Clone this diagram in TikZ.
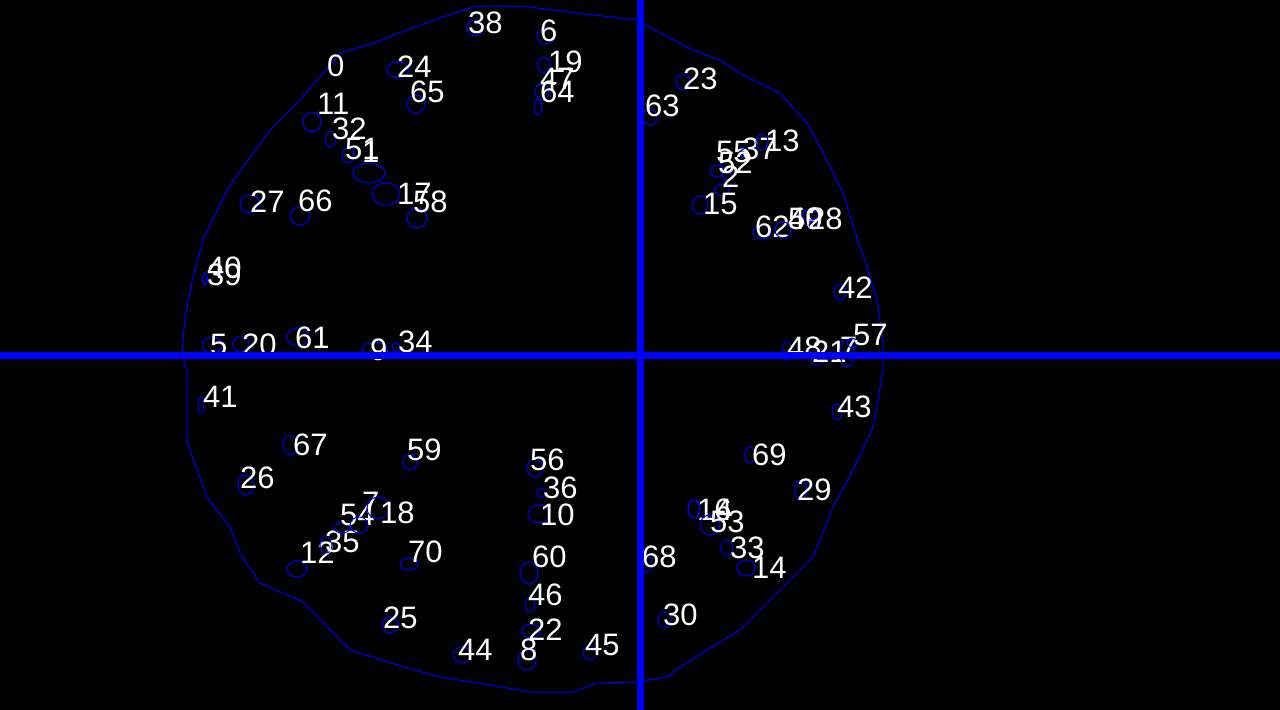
\documentclass[tikz,border=0pt]{standalone}
\usepackage{fontspec}
\newfontfamily\labfont{Liberation Sans}
\definecolor{PtBlue}{HTML}{0000FF}
\definecolor{PtWhite}{HTML}{FFFFFF}
\begin{document}
\begin{tikzpicture}[x=1bp, y=-1bp,
  blob/.style={draw=PtBlue, line width=1bp},
  lab/.style={text=PtWhite, font={\labfont\fontsize{31bp}{31bp}\selectfont}, anchor=base west, inner sep=0pt}]
    \fill[black] (0,0) rectangle (1280,710);
    \useasboundingbox (0,0) rectangle (1280,710);
    % rim of the plate
    \draw[blob] plot[sharp plot] coordinates {(473,7) (493,6) (530,7) (577,13) (637,20) (660,33) (693,50) (720,60) (743,75) (780,93) (807,123) (827,160) (843,193) (860,247) (865,260) (877,300) (883,343) (883,370) (878,400) (873,427) (853,470) (833,507) (813,557) (773,597) (740,630) (707,650) (680,667) (667,677) (637,682) (597,683) (573,692) (530,692) (490,685) (440,677) (407,668) (350,650) (303,602) (260,583) (240,553) (230,527) (207,497) (190,450) (187,440) (187,373) (182,353) (185,317) (193,277) (203,240) (227,190) (250,157) (270,130) (297,103) (320,77) (340,53) (377,42) (407,30) (440,18)} -- cycle;
    % spots and their numbers
    \foreach \cx/\cy/\rx/\ry/\lx/\ly/\t [count=\i] in {
        398/70/11/8/397/78/24, 416/104/9/9/410/103/65, 312/122/9/10/317/115/11,
        330/139/5/8/332/140/32, 348/155/6/8/345/160/51, 369/173/16/10/362/163/1,
        386/194/14/11/397/205/17, 417/218/10/10/413/213/58, 250/204/10/9/250/213/27,
        300/216/10/9/298/212/66, 475/28/8/8/468/34/38, 546/36/9/8/540/42/6,
        544/65/6/8/548/73/19, 542/92/7/8/540/90/47, 538/107/4/8/540/103/64,
        683/82/7/8/683/90/23, 650/117/7/8/645/117/63, 717/171/7/6/716/163/55,
        748/153/8/5/742/160/37, 762/142/6/8/765/152/13, 727/175/5/5/718/174/52,
        722/190/7/6/722/188/2, 700/205/8/9/703/215/15, 762/232/9/7/755/238/62,
        783/230/8/8/788/230/49, 810/215/8/5/788/230/50, 813/225/4/4/808/230/28,
        787/351/5/9/787/358/48, 817/361/6/4/812/362/21, 847/353/7/14/840/358/7,
        840/292/6/8/838/298/42, 852/343/5/5/853/345/57, 837/412/5/8/837/417/43,
        205/279/2/6/207/278/40, 205/279/2/6/207/285/39, 212/345/10/8/210/355/5,
        241/344/8/8/242/355/20, 298/337/11/9/295/348/61, 375/350/13/8/370/360/9,
        396/347/4/5/398/352/34, 201/405/3/8/203/407/41, 290/445/7/10/293/455/67,
        410/462/7/8/407/460/59, 246/485/8/10/240/488/26, 297/569/10/8/300/563/12,
        326/545/6/8/325/552/35, 342/528/8/5/340/525/54, 359/525/9/8/362/513/7,
        378/508/11/11/380/523/18, 409/564/9/6/408/562/70, 390/625/8/8/383/628/25,
        462/655/9/8/458/660/44, 535/468/8/9/530/470/56, 541/493/4/5/543/498/36,
        539/514/11/9/540/525/10, 529/573/9/11/532/567/60, 530/605/5/7/528/605/46,
        531/631/9/7/528/640/22, 527/660/9/10/520/660/8, 590/653/7/7/585/655/45,
        646/564/6/8/642/567/68, 665/620/7/8/663/625/30, 750/455/5/8/752/465/69,
        801/490/6/10/797/500/29, 694/509/6/9/697/520/16, 694/509/6/9/715/520/4,
        710/525/10/10/710/532/53, 727/548/6/8/730/558/33, 746/568/9/8/752/578/14}
        {
            \draw[blob] (\cx,\cy) ellipse [x radius=\rx bp, y radius=\ry bp];
            \node[lab] (spot\i) at (\lx,\ly) {\t};
        }
    \node[lab] (spot0) at (327,77) {0};
    % axes through the centre
    \draw[PtBlue, line width=7bp] (640,0) -- (640,710);
    \draw[PtBlue, line width=7bp] (0,355) -- (1280,355);
\end{tikzpicture}
\end{document}
